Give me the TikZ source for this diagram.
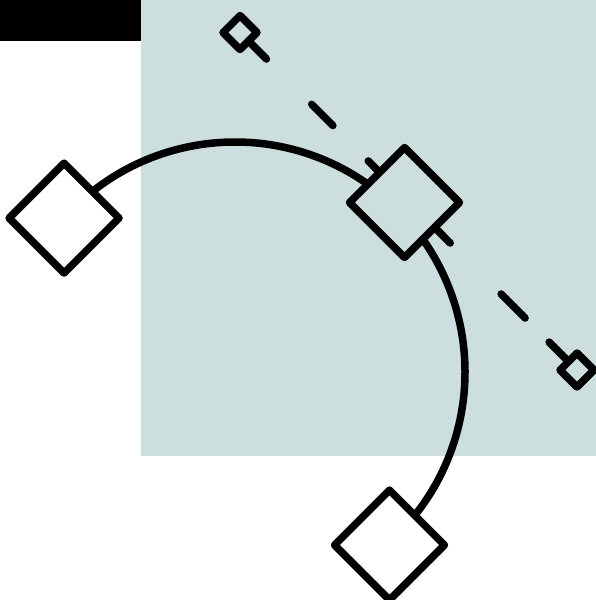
\documentclass[tikz,border=0pt]{standalone}
\usepackage{xcolor}
\usetikzlibrary{shapes.geometric,backgrounds}
\definecolor{paneteal}{HTML}{CCDEDE}

\begin{document}
\begin{tikzpicture}[x=1pt,y=-1pt,
        stroke/.style={line width=7.5pt,line join=round,line cap=round},
        bigdia/.style={diamond,draw,stroke,inner sep=0pt,minimum width=113pt,minimum height=113pt},
        smalldia/.style={diamond,draw,stroke,fill=paneteal,inner sep=0pt,minimum width=37pt,minimum height=37pt}]
            \useasboundingbox (0,0) rectangle (596,600);
            % nodes on the arc
            \coordinate (ctr) at (235,372);
            \node[bigdia,fill=white] (left) at ([shift={(138:230pt)}]ctr) {};
            \node[bigdia,fill=paneteal] (mid) at (404.5,202.5) {};
            \node[bigdia,fill=white] (bottom) at (389.5,545) {};
            \node[smalldia] (s1) at (240,32.5) {};
            \node[smalldia] (s2) at (577,370) {};
            \begin{scope}[on background layer]
                \fill[paneteal] (141,0) rectangle (596,456);
                \fill[black] (0,0) rectangle (141,41);
                \draw[stroke] (left.center) arc[start angle=-138,end angle=48.2,radius=230];
                \draw[stroke,dash pattern=on 37.5pt off 64pt on 30pt off 50pt on 116pt off 72pt on 34pt off 34pt on 40pt off 10pt]
                    (s1.center) -- (s2.center);
            \end{scope}
        \end{tikzpicture}
\end{document}
